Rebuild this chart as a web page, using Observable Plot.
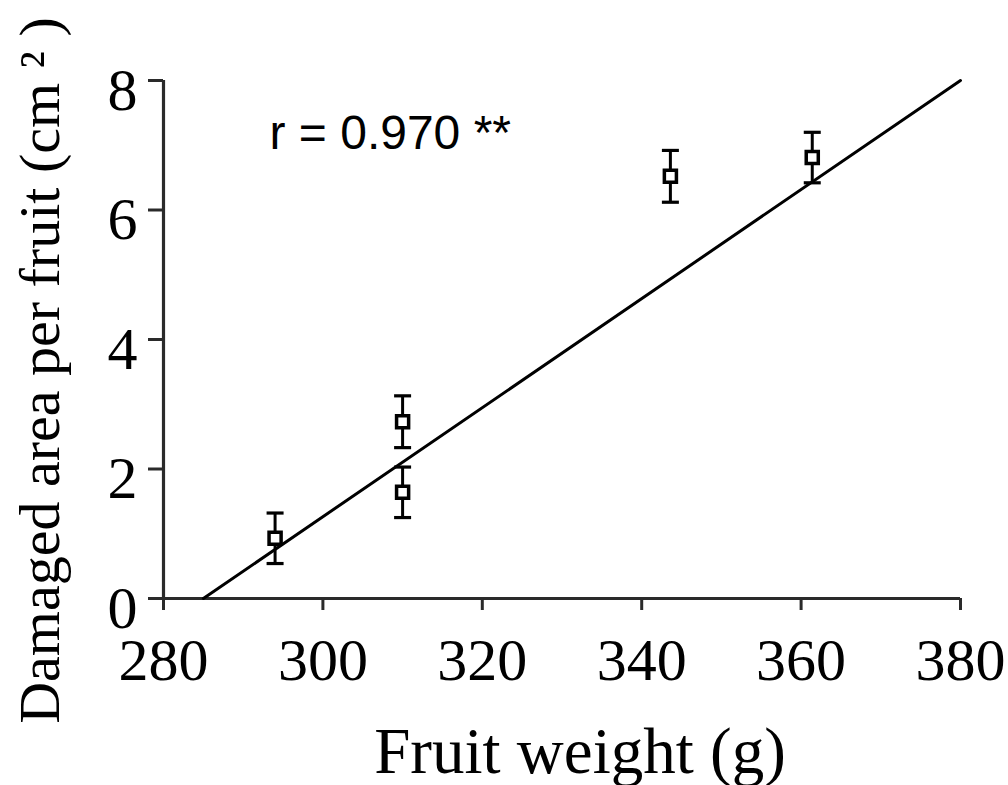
<!DOCTYPE html>
<html>
<head>
<meta charset="utf-8">
<script src="https://cdn.jsdelivr.net/npm/d3@7"></script>
<script src="https://cdn.jsdelivr.net/npm/@observablehq/plot@0.6"></script>
<style>
  html, body { margin: 0; padding: 0; background: #fff; }
  svg { display: block; }
</style>
</head>
<body>
<div id="chart"></div>
<script>
// Data
const fruitWeight = [294.0, 310.0, 310.0, 343.6, 361.4];   // g
const damagedArea = [0.93, 1.64, 2.73, 6.52, 6.81];        // cm²
const errorBar    = [0.39, 0.39, 0.40, 0.40, 0.39];        // ± error
const fitWeight   = [285, 380];
const fitArea     = [0, 8];
const xTicks = [280, 300, 320, 340, 360, 380];
const yTicks = [0, 2, 4, 6, 8];
const xTitle = "Fruit weight (g)";
const yTitle = "Damaged area per fruit (cm ² )";
const rLabel = "r = 0.970 **";

const points = fruitWeight.map((w, i) => ({x: w, y: damagedArea[i], e: errorBar[i]}));
const capsTop = points.map(d => ({x: d.x, y: d.y + d.e}));
const capsBottom = points.map(d => ({x: d.x, y: d.y - d.e}));
const fit = fitWeight.map((w, i) => ({x: w, y: fitArea[i]}));

const capSymbol = {
  draw(context, size) {
    const r = Math.sqrt(size / Math.PI);
    context.moveTo(-r, 0);
    context.lineTo(r, 0);
  }
};

const axisColor = "#2a2a2a";
const fmt = d => String(d);

const chart = Plot.plot({
  width: 1008,
  height: 785,
  marginLeft: 163,
  marginRight: 48,
  marginTop: 80,
  marginBottom: 187,
  style: {fontFamily: "'Liberation Serif', 'Times New Roman', serif", background: "white", color: "black", overflow: "visible"},
  x: {domain: [280, 380]},
  y: {domain: [0, 8]},
  marks: [
    // axis lines
    Plot.ruleY([0], {stroke: axisColor, strokeWidth: 3.2}),
    Plot.ruleX([280], {stroke: axisColor, strokeWidth: 3.2}),
    // ticks
    Plot.axisX(xTicks, {tickSize: 12, stroke: axisColor, strokeWidth: 3, fill: "none", label: null, tickFormat: fmt}),
    Plot.axisY(yTicks, {tickSize: 15, stroke: axisColor, strokeWidth: 3, fill: "none", label: null, tickFormat: fmt}),
    // tick labels
    Plot.axisX(xTicks, {tickSize: 12, tickPadding: 27, stroke: "none", fill: "black", fontSize: 60, label: null, tickFormat: fmt}),
    Plot.axisY(yTicks, {tickSize: 15, tickPadding: 11, stroke: "none", fill: "black", fontSize: 60, dy: 10, label: null, tickFormat: fmt}),
    // regression line
    Plot.line(fit, {x: "x", y: "y", stroke: "black", strokeWidth: 3}),
    // error bars
    Plot.ruleX(points, {x: "x", y1: d => d.y - d.e, y2: d => d.y + d.e, stroke: "black", strokeWidth: 3}),
    Plot.dot(capsTop, {x: "x", y: "y", symbol: capSymbol, r: 8.5, stroke: "black", strokeWidth: 3.2, fill: "none"}),
    Plot.dot(capsBottom, {x: "x", y: "y", symbol: capSymbol, r: 8.5, stroke: "black", strokeWidth: 3.2, fill: "none"}),
    // points
    Plot.dot(points, {x: "x", y: "y", symbol: "square", r: 6.8, fill: "white", stroke: "black", strokeWidth: 3.5}),
    // annotation
    Plot.text([rLabel], {frameAnchor: "top-left", dx: 106, dy: 68, text: d => d, textAnchor: "start", lineAnchor: "bottom",
      fontFamily: "'Liberation Sans', Arial, sans-serif", fontSize: 48, fill: "black"}),
    // axis titles
    Plot.text([xTitle], {frameAnchor: "bottom", dx: 18, dy: 174, text: d => d, textAnchor: "middle", lineAnchor: "bottom",
      fontSize: 65, fill: "black"}),
    Plot.text([yTitle], {frameAnchor: "left", dx: -105, dy: 31, rotate: -90, text: d => d, textAnchor: "middle", lineAnchor: "bottom",
      fontSize: 58, fill: "black"})
  ]
});

document.getElementById("chart").appendChild(chart);
</script>
</body>
</html>
